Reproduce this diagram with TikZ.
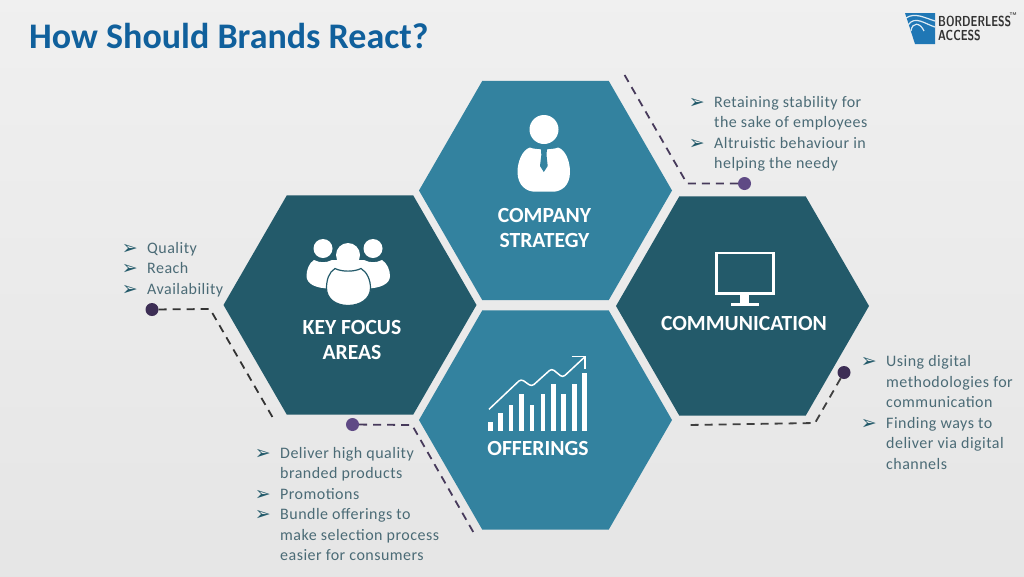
\documentclass[tikz,border=0pt]{standalone}
\usepackage{fontspec}
\setmainfont{Carlito}
\newfontfamily\bulletfont{DejaVu Sans}
\usetikzlibrary{shapes.geometric,positioning}

\definecolor{hexdark}{HTML}{235A6A}
\definecolor{hexlight}{HTML}{33829F}
\definecolor{titleblue}{HTML}{10609C}
\definecolor{listtext}{HTML}{4B6B76}
\definecolor{dotdark}{HTML}{3D2E55}
\definecolor{dotpurple}{HTML}{5F4A85}
\definecolor{logoblue}{HTML}{1F77B5}

\newcommand{\itemmark}{\llap{\smash{\raisebox{-1pt}{\bulletfont\fontsize{19}{19}\selectfont\color{hexdark}➢}}\hspace{9.5pt}}}

\tikzset{
  hexcell/.style={shape=regular polygon,regular polygon sides=6,minimum size=253pt,inner sep=0pt,outer sep=0pt},
  hexlabel/.style={text=white,font=\fontsize{21.6}{25}\selectfont\bfseries,align=center,inner sep=0pt},
  listnode/.style={text=listtext,font=\fontsize{16}{20.5}\selectfont\addfontfeature{LetterSpace=3},align=left,inner sep=0pt,anchor=west},
  dotnode/.style={shape=circle,minimum size=13pt,inner sep=0pt},
  leader/.style={line width=1.8pt,dash pattern=on 8pt off 6pt,line join=round},
}

\begin{document}
\begin{tikzpicture}[x=1pt,y=-1pt]
	\useasboundingbox (0,0) rectangle (1024,576);
	\shade[top color=black!6,bottom color=black!10] (0,0) rectangle (1024,576);

	% create the hexagons
	\node (company)[hexcell, fill=hexlight] at (545.5,190.5) {};
	\node (offer)[hexcell, fill=hexlight] at (545.5,420) {};
	\node (keyarea)[hexcell, fill=hexdark] at (350,305) {};
	\node (comm)[hexcell, fill=hexdark] at (742.5,306) {};

	% title and labels
	\node (title)[anchor=west, inner sep=0pt, text=titleblue, font=\fontsize{36}{36}\selectfont\bfseries] at (29,36) {How Should Brands React?};
	\node (companytext)[hexlabel] at (544.5,228) {COMPANY\\STRATEGY};
	\node (keytext)[hexlabel] at (352,339.5) {KEY FOCUS\\AREAS};
	\node (commtext)[hexlabel] at (744,323) {COMMUNICATION};
	\node (offertext)[hexlabel] at (538,448) {OFFERINGS};

	% the lists
	\node (companylist)[listnode] at (714,134) {\itemmark Retaining stability for\\the sake of employees\\\itemmark Altruistic behaviour in\\helping the needy};
	\node (keylist)[listnode] at (147,269.5) {\itemmark Quality\\\itemmark Reach\\\itemmark Availability};
	\node (offerlist)[listnode] at (280,504) {\itemmark Deliver high quality\\branded products\\\itemmark Promotions\\\itemmark Bundle offerings to\\make selection process\\easier for consumers};
	\node (commlist)[listnode] at (886,412.5) {\itemmark Using digital\\methodologies for\\communication\\\itemmark Finding ways to\\deliver via digital\\channels};

	% dots and the leaders
	\node (dotkey)[dotnode, fill=dotdark] at (152,309.5) {};
	\node (dotoffer)[dotnode, fill=dotpurple] at (352.5,424.5) {};
	\node (dotcompany)[dotnode, fill=dotpurple] at (744.5,183.5) {};
	\node (dotcomm)[dotnode, fill=dotdark] at (844,372.5) {};
	\coordinate (keybend) at (210,309);
	\coordinate (keyend) at (273,418);
	\coordinate (offerbend) at (412,425);
	\coordinate (offerend) at (475,535);
	\coordinate (companybend) at (687,183.5);
	\coordinate (companyend) at (624,74);
	\coordinate (commbend) at (815,423);
	\coordinate (commend) at (688,425);
	\draw[leader, draw=black!80] (dotkey) -- (keybend) -- (keyend);
	\draw[leader, draw=dotdark!85!gray] (dotoffer) -- (offerbend) -- (offerend);
	\draw[leader, draw=dotdark!85!gray] (dotcompany) -- (companybend) -- (companyend);
	\draw[leader, draw=black!75] (dotcomm) -- (commbend) -- (commend);

	% person
	\fill[white] (544,129.5) circle (14.5);
	\fill[white] (530,147.5) .. controls (522,150) and (517.5,162) .. (517.5,172) .. controls (517.5,186) and (527,191.7) .. (535,191.7) -- (553,191.7) .. controls (561,191.7) and (570,186) .. (570,172) .. controls (570,162) and (566,150) .. (558,147.5) .. controls (553,150) and (535,150) .. (530,147.5) -- cycle;
	\fill[hexlight] (541,148.5) -- (547,148.5) -- (546.5,155) -- (547.7,166) -- (543.8,172) -- (540,166) -- (541.3,155) -- cycle;

	% group
	\fill[white] (323,248.5) circle (9.5);
	\fill[white] (373,248.5) circle (9.5);
	\fill[white] (348,255) circle (12);
	\fill[white] (314,260) .. controls (309,263) and (306.5,270) .. (306.5,276) .. controls (306.5,284) and (316,288.5) .. (330,288.5) -- (366,288.5) .. controls (380,288.5) and (390,284) .. (390,276) .. controls (390,270) and (387,263) .. (382,260) .. controls (376,263) and (370,263) .. (364,260) -- (332,260) .. controls (326,263) and (320,263) .. (314,260) -- cycle;
	\fill[white, draw=hexdark, line width=1.2pt] (335,268.5) .. controls (329,272) and (326.5,280) .. (326.5,288) .. controls (326.5,299) and (336,305.5) .. (348,305.5) .. controls (360,305.5) and (370.5,299) .. (370.5,288) .. controls (370.5,280) and (367,272) .. (361,268.5) .. controls (354,272) and (342,272) .. (335,268.5) -- cycle;

	% monitor
	\draw[white, line width=2.5pt] (716.5,253) rectangle (773.5,293.5);
	\fill[white] (740,294) rectangle (749.3,303);
	\fill[white] (730.7,303) rectangle (759.3,305.7);

	% bars
	\foreach \barx/\bartop in {490.3/421.7,500.7/413.3,511/405,521.3/394.3,532/405,543/394.3,553.3/384,563.7/394.3,574.3/384,584.7/373.3}
		\fill[white] (\barx-2.4,431) rectangle (\barx+2.4,\bartop);
	\draw[white, line width=1.5pt, rounded corners=3pt] (489,409.3) -- (521,379) -- (531.7,386.5) -- (551.7,368.5) -- (562.7,377.5) -- (585,356.7);
	\draw[white, line width=1.5pt] (571.7,356.7) -- (585,356.7) -- (585,369.3);

	% logo
	\fill[logoblue] (905,13) -- (935,13) -- (935,44) -- (915,44) -- cycle;
	\draw[white!85!logoblue, line width=1.2pt] (906,18) .. controls (915,12) and (925,18) .. (935,21);
	\draw[white!85!logoblue, line width=1.2pt] (908,25) .. controls (915,15) and (925,24) .. (935,27);
	\draw[white!85!logoblue, line width=1.2pt] (911,31) .. controls (912,22) and (920,22) .. (924,31);
	\node (logotop)[anchor=west, inner sep=0pt, xscale=.74, text=black!80, font=\fontsize{14.5}{14.5}\selectfont\bfseries\sffamily] at (938,21) {BORDERLESS};
	\node (logobottom)[anchor=west, inner sep=0pt, xscale=.74, text=black!80, font=\fontsize{14.5}{14.5}\selectfont\bfseries\sffamily] at (938,35.5) {ACCESS};
	\node (logotm)[anchor=west, inner sep=0pt, text=black!80, font=\fontsize{4}{4}\selectfont\bfseries\sffamily] at (1009.5,14) {TM};
\end{tikzpicture}
\end{document}
